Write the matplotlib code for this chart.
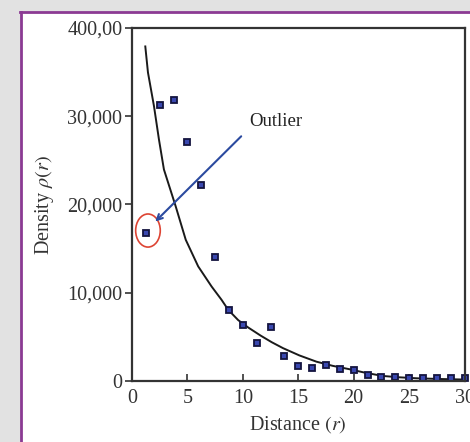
import matplotlib
matplotlib.use('Agg')
import matplotlib.pyplot as plt
from matplotlib.patches import Ellipse, Rectangle
from matplotlib.lines import Line2D

plt.rcParams['font.family'] = ['Liberation Serif', 'DejaVu Serif']
plt.rcParams['mathtext.fontset'] = 'stix'

# measured densities
dist = [1.25, 2.5, 3.75, 5, 6.25, 7.5, 8.75, 10, 11.25, 12.5, 13.75, 15,
        16.25, 17.5, 18.75, 20, 21.25, 22.5, 23.75, 25, 26.25, 27.5, 28.75, 30]
density = [16780, 31250, 31800, 27080, 22160, 14010, 8070, 6360, 4280, 6170,
           2880, 1700, 1520, 1820, 1360, 1250, 680, 420, 450, 300, 300, 300,
           300, 300]

# fitted curve
fit_x = [1.20, 1.44, 1.98, 2.43, 2.88, 3.94, 4.85, 5.97, 7.18, 8.08,
         8.68, 9.58, 10.5, 11.6, 12.6, 13.63, 15.1, 16.64, 18.1, 19.64, 21.1,
         22.64, 24.1, 25.65, 27.7, 29.8]
fit_y = [37910, 34960, 31170, 27380, 23970, 19800, 16000, 12990, 10710,
         9200, 8070, 6900, 6050, 5150, 4400, 3720, 2900, 2190, 1720, 1330, 920,
         570, 420, 310, 230, 170]

xticks = [0, 5, 10, 15, 20, 25, 30]
yticks = [0, 10000, 20000, 30000, 40000]
ytick_labels = ['0', '10,000', '20,000', '30,000', '400,00']

fig = plt.figure(figsize=(4.7, 4.42), dpi=100)
fig.patch.set_facecolor('#e2e2e2')
fig.patches.append(Rectangle((21 / 470, 0), 1, 1 - 12 / 442, transform=fig.transFigure,
                             facecolor='white', edgecolor='none', zorder=-10))
fig.lines.append(Line2D([21 / 470, 21 / 470], [0, 1 - 11.5 / 442], transform=fig.transFigure,
                        color='#8b3a93', lw=2, zorder=-5))
fig.lines.append(Line2D([20 / 470, 1], [1 - 11.5 / 442, 1 - 11.5 / 442], transform=fig.transFigure,
                        color='#8b3a93', lw=2, zorder=-5))

ax = fig.add_axes([132 / 470, 1 - 381 / 442, 332.5 / 470, 353 / 442])
ax.set_facecolor('white')

ax.plot(fit_x, fit_y, color='#1a1a1a', lw=1.4)
ax.plot(dist, density, 's', ms=5, mfc='#3a48b0', mec='#14143f', mew=1.3, clip_on=False)

ax.add_patch(Ellipse((1.44, 17050), 2.22, 3750, fill=False, edgecolor='#dd4433', lw=1.2))
ax.annotate('', xy=(1.92, 17840), xytext=(10.03, 27950),
            arrowprops=dict(arrowstyle='->', color='#2b4a9f', lw=1.5))
ax.text(10.6, 29430, 'Outlier', fontsize=13.5, va='center', ha='left', color='#222222')

ax.set_xlim(0, 30)
ax.set_ylim(0, 40000)
ax.set_xticks(xticks)
ax.set_yticks(yticks)
ax.set_yticklabels(ytick_labels)
ax.tick_params(axis='x', direction='in', length=5, width=1.2, labelsize=14.5, pad=6, colors='#333333')
ax.tick_params(axis='y', direction='out', length=5, width=1.2, labelsize=14.5, pad=2, colors='#333333')
for s in ax.spines.values():
    s.set_linewidth(1.6)
    s.set_color('#333333')

ax.set_xlabel('Distance $(r)$', fontsize=14.5, color='#333333', labelpad=4)
ax.set_ylabel(r'Density $\rho(r)$', fontsize=14.5, color='#333333', labelpad=8)

fig.savefig('out.png', dpi=100, facecolor=fig.get_facecolor())
